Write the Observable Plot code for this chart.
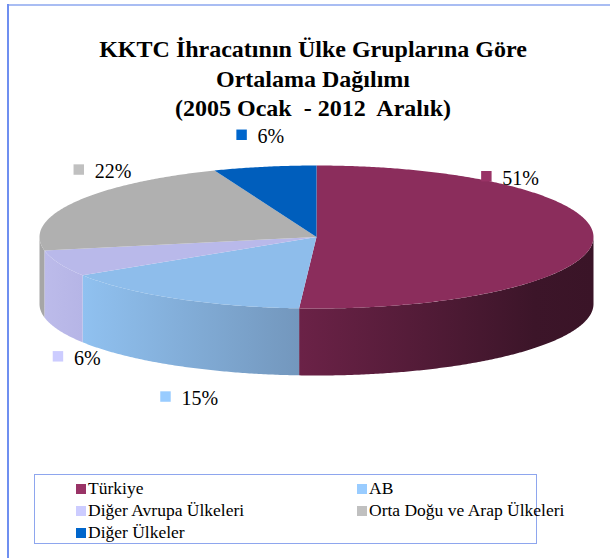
<!DOCTYPE html>
<html><head><meta charset="utf-8">
<script src="https://cdn.jsdelivr.net/npm/d3@7"></script>
<script src="https://cdn.jsdelivr.net/npm/@observablehq/plot@0.6"></script>
<style>
body{margin:0;background:#fff;}
#wrap{position:relative;width:610px;height:558px;overflow:hidden;background:#fff;font-family:"Liberation Serif",Tinos,"Times New Roman",Times,"DejaVu Serif",serif;color:#000;}
#chart{position:absolute;left:0;top:0;}
#frameTop{position:absolute;left:8px;top:4px;width:602px;height:0;border-top:2px solid #a9bdf3;}
#frameLeft{position:absolute;left:7px;top:4px;width:0;height:560px;border-left:2px solid #6f8ff0;}
#title{position:absolute;left:8px;width:610px;top:35px;text-align:center;font-weight:bold;font-size:24px;line-height:29.5px;white-space:pre;}
#legend{position:absolute;left:34px;top:474px;width:503px;height:70px;border:1.5px solid #8ea6ee;box-sizing:border-box;}
.item{position:absolute;font-size:17.5px;line-height:22px;white-space:nowrap;}
.sw{display:inline-block;width:10px;height:10px;margin-right:2px;vertical-align:0px;}
</style>
</head><body>
<div id="wrap">
  <div id="chart"></div>
  <div id="frameTop"></div>
  <div id="frameLeft"></div>
  <div id="title"></div>
  <div id="legend"></div>
</div>
<script>
// ---- data ----
const titleLines = ["KKTC İhracatının Ülke Gruplarına Göre", "Ortalama Dağılımı", "(2005 Ocak  - 2012  Aralık)"];
const categories = ["Türkiye", "AB", "Diğer Avrupa Ülkeleri", "Orta Doğu ve Arap Ülkeleri", "Diğer Ülkeler"];
const shares = [51, 15, 6, 22, 6];
const pieLabels = ["51%", "15%", "6%", "22%", "6%"];

// ---- styles ----
const serif = '"Liberation Serif", Tinos, "Times New Roman", Times, "DejaVu Serif", serif';
const topColors = ["#8b2d5c", "#8ebdeb", "#b9b9ea", "#b0b0b0", "#005ebc"];
const sideFills = ["url(#gTur)", "url(#gAB)", "url(#gDA)", "#a6a6a6", "#004a96"];
const legendColors = ["#993366", "#99ccff", "#ccccff", "#c0c0c0", "#0066cc"];
// label offsets (px) from the slice mid-point on the rim
const labelNudge = [[-107, -63], [-10, 98], [-1, 93], [5, -33], [-23, -32]];

// ---- layout ----
const W = 610, H = 558;
const cx = 316, cy = 236.5, rx = 277, ry = 71.5, depth = 67;

const total = d3.sum(shares);
const pt = (deg, dy = 0) => {
  const t = deg * Math.PI / 180;
  return [cx + rx * Math.sin(t), cy - ry * Math.cos(t) + dy];
};
const arc = (a, b, dy = 0) => {
  const n = Math.max(2, Math.ceil(Math.abs(b - a) / 0.5));
  return d3.range(n + 1).map(k => pt(a + (b - a) * k / n, dy));
};

let acc = 0;
const slices = categories.map((c, i) => {
  const a0 = acc / total * 360;
  acc += shares[i];
  const a1 = acc / total * 360;
  return {category: c, value: shares[i], a0, a1, i};
});

const tops = slices.map(s => {
  const ring = [[cx, cy], ...arc(s.a0, s.a1), [cx, cy]];
  return {type: "Feature", properties: {fill: topColors[s.i]}, geometry: {type: "Polygon", coordinates: [ring]}};
});

const sides = slices.flatMap(s => {
  const a = Math.max(s.a0, 90), b = Math.min(s.a1, 270);
  if (a >= b) return [];
  const topArc = arc(a, b), botArc = arc(b, a, depth);
  const ring = [...topArc, ...botArc, topArc[0]];
  return [{type: "Feature", properties: {fill: sideFills[s.i]}, geometry: {type: "Polygon", coordinates: [ring]}}];
});

const labels = slices.map(s => {
  const m = (s.a0 + s.a1) / 2;
  const [bx, by] = pt(m);
  const [nx, ny] = labelNudge[s.i];
  return {x: bx + nx, y: by + ny, text: pieLabels[s.i], fill: legendColors[s.i]};
});

const chart = Plot.plot({
  width: W, height: H,
  margin: 0,
  projection: "identity",
  color: {type: "identity"},
  style: {background: "transparent", overflow: "visible", fontFamily: serif},
  marks: [
    Plot.geo(sides, {fill: d => d.properties.fill, stroke: "none"}),
    Plot.geo(tops, {fill: d => d.properties.fill, stroke: "none"}),
    Plot.dot(labels, {x: "x", y: "y", symbol: "square", r: 5.9, fill: "fill", stroke: "none"}),
    Plot.text(labels, {x: d => d.x + 16, y: d => d.y + 2, text: "text", textAnchor: "start", fontSize: 20, fontFamily: serif, fill: "#000"})
  ]
});

// gradients for the rim
const svg = d3.select(chart);
const defs = svg.insert("defs", ":first-child");
function grad(id, stops) {
  const g = defs.append("linearGradient").attr("id", id).attr("x1", 0).attr("x2", 1).attr("y1", 0).attr("y2", 0);
  stops.forEach(([o, c]) => g.append("stop").attr("offset", o).attr("stop-color", c));
}
grad("gTur", [[0, "#6b2247"], [0.8, "#3c1529"], [1, "#3a1427"]]);
grad("gAB", [[0, "#90c1f0"], [1, "#7397bd"]]);
grad("gDA", [[0, "#bcbbea"], [1, "#b6b5e6"]]);

document.getElementById("chart").appendChild(chart);

// title
const title = document.getElementById("title");
titleLines.forEach(t => { const d = document.createElement("div"); d.textContent = t; title.appendChild(d); });

// legend
const legend = document.getElementById("legend");
const colX = [41, 322], rowY = [2, 24, 46];
categories.forEach((c, i) => {
  const it = document.createElement("div");
  it.className = "item";
  it.style.left = colX[i % 2] + "px";
  it.style.top = rowY[Math.floor(i / 2)] + "px";
  const sw = document.createElement("span");
  sw.className = "sw";
  sw.style.background = legendColors[i];
  it.appendChild(sw);
  it.appendChild(document.createTextNode(c));
  legend.appendChild(it);
});
</script>
</body></html>
